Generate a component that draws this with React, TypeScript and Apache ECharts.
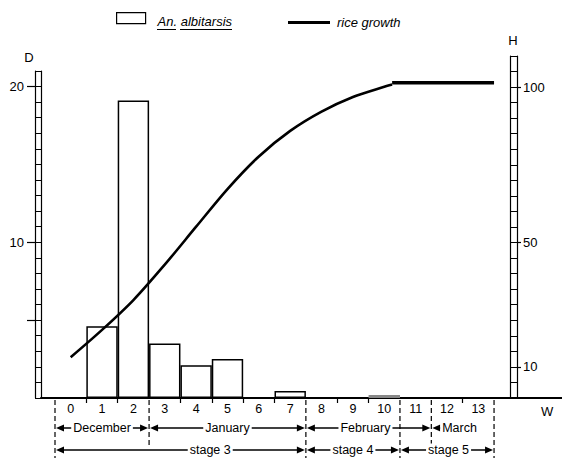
import React, { useEffect, useRef } from 'react';
import * as echarts from 'echarts';

const FONT = '"Liberation Sans", Arial, Helvetica, sans-serif';

// ---- data ----
const weeks = [0, 1, 2, 3, 4, 5, 6, 7, 8, 9, 10, 11, 12, 13];
const albitarsisDensity = [0, 4.6, 19.1, 3.5, 2.1, 2.5, 0, 0.45, 0, 0, 0.2, 0, 0, 0];
const riceWeeks = [0, 1, 2, 3, 4, 5, 6, 7, 8, 9, 10, 10.25];
const riceGrowth = [13.1, 21.9, 31.5, 42.9, 55.1, 67.2, 77.7, 85.9, 92.1, 96.8, 100.1, 100.8];
const plateauWeeks = [10.25, 13.5];
const plateauGrowth = [101.4, 101.4];
const weekBoundaryTicks = [0.5, 1.5, 3.5, 4.5, 5.5, 6.5, 8.5, 9.5, 12.5];
const months = ['December', 'January', 'February', 'March'];
const monthStart = [-0.5, 2.5, 7.5, 11.5];
const monthEnd = [2.5, 7.5, 11.5, 13.5];
const monthLabelAt = [1, 5, 9.4, 12.4];
const monthClosedRight = [true, true, true, false];
const stages = ['stage 3', 'stage 4', 'stage 5'];
const stageStart = [-0.5, 7.5, 10.5];
const stageEnd = [7.5, 10.5, 13.5];
const stageLabelAt = [4.45, 9, 12.05];
const stageBoundaries = [-0.5, 7.5, 10.5, 13.5];
const monthOnlyBoundaries = [2.5, 11.5];
const dTickValues = [5, 10, 20];
const dLabelValues = [10, 20];
const hLabelValues = [10, 50, 100];

const X_MIN = -0.9464;
const X_MAX = 15.667;

function arrowRenderer(
  starts: number[], ends: number[], labelAt: number[], labels: string[],
  drop: number, closedRight: boolean[] | null
) {
  return (params: any, api: any) => {
    const i = params.dataIndex;
    const p1 = api.coord([starts[i], 0]);
    const x2 = api.coord([ends[i], 0])[0];
    const xl = api.coord([labelAt[i], 0])[0];
    const x1 = p1[0];
    const y = p1[1] + drop;
    const right = closedRight ? closedRight[i] : true;
    const children: any[] = [];
    if (right) {
      children.push({ type: 'line', shape: { x1: x1 + 6, y1: y, x2: x2 - 6, y2: y }, style: { stroke: '#000', lineWidth: 1.4 } });
      children.push({ type: 'polygon', shape: { points: [[x2 - 1, y], [x2 - 9, y - 3.5], [x2 - 9, y + 3.5]] }, style: { fill: '#000' } });
    } else {
      children.push({ type: 'line', shape: { x1: x1 + 6, y1: y, x2: x1 + 10, y2: y }, style: { stroke: '#000', lineWidth: 1.4 } });
    }
    children.push({ type: 'polygon', shape: { points: [[x1 + 1, y], [x1 + 9, y - 3.5], [x1 + 9, y + 3.5]] }, style: { fill: '#000' } });
    children.push({
      type: 'text',
      style: {
        text: labels[i], x: xl, y, align: 'center', verticalAlign: 'middle',
        fontSize: 12.5, fontFamily: FONT, fill: '#000', backgroundColor: '#fff', padding: [0, 2],
      },
    });
    return { type: 'group', children };
  };
}

export default function App() {
  const ref = useRef<HTMLDivElement>(null);
  useEffect(() => {
    if (!ref.current) return;
    const chart = echarts.init(ref.current, null, { renderer: 'svg' });

    const boundaries = [
      ...stageBoundaries.map((b) => [b, 0, 1]),
      ...monthOnlyBoundaries.map((b) => [b, 0, 0]),
    ];

    const option: any = {
      animation: false,
      backgroundColor: '#fff',
      textStyle: { fontFamily: FONT, color: '#000' },
      grid: [
        { left: 41, right: 0, top: 71, bottom: 60 },
        { left: 41, right: 0, top: 56, bottom: 60 },
      ],
      legend: [
        {
          data: ['An. albitarsis'], left: 116, top: 12, padding: 0, itemWidth: 29, itemHeight: 11, icon: 'rect',
          selectedMode: false,
          itemStyle: { color: '#fff', borderColor: '#000', borderWidth: 1.2 },
          formatter: '{t|{name}}',
          textStyle: {
            fontStyle: 'italic', fontSize: 13, color: '#000', fontFamily: FONT,
            rich: { t: { fontStyle: 'italic', fontSize: 13, color: '#000', fontFamily: FONT, padding: [6, 0, 0, 7] } },
          },
        },
        {
          data: ['rice growth'], left: 288, top: 16, padding: 0, itemWidth: 42, itemHeight: 3, icon: 'rect',
          selectedMode: false,
          itemStyle: { color: '#000' },
          formatter: '{t|{name}}',
          textStyle: {
            fontStyle: 'italic', fontSize: 13, color: '#000', fontFamily: FONT,
            rich: { t: { fontStyle: 'italic', fontSize: 13, color: '#000', fontFamily: FONT, padding: [0, 0, 0, 2] } },
          },
        },
      ],
      graphic: [
        { type: 'line', shape: { x1: 157, y1: 29.5, x2: 176, y2: 29.5 }, style: { stroke: '#000', lineWidth: 1 } },
        { type: 'line', shape: { x1: 180, y1: 29.5, x2: 232, y2: 29.5 }, style: { stroke: '#000', lineWidth: 1 } },
        {
          type: 'text', left: 541, top: 405,
          style: { text: 'W', fontSize: 13, fontFamily: FONT, fill: '#000' },
        },
      ],
      xAxis: [
        {
          gridIndex: 0, type: 'value', min: X_MIN, max: X_MAX,
          axisLine: { show: true, onZero: false, lineStyle: { color: '#000', width: 2 } },
          axisTick: { show: true, customValues: weekBoundaryTicks, length: 5, lineStyle: { color: '#000', width: 1.2 } },
          axisLabel: { show: true, customValues: weeks, margin: 4, fontSize: 12.5, color: '#000', fontFamily: FONT },
          splitLine: { show: false },
        },
        { gridIndex: 1, type: 'value', min: X_MIN, max: X_MAX, show: false },
      ],
      yAxis: [
        {
          gridIndex: 0, type: 'value', position: 'left', min: 0, max: 21, interval: 1,
          axisLine: { show: true, onZero: false, lineStyle: { color: '#000', width: 1.2 } },
          axisTick: { show: true, length: 6, lineStyle: { color: '#000', width: 1 } },
          axisLabel: { show: false }, splitLine: { show: false },
        },
        {
          gridIndex: 0, type: 'value', position: 'left', offset: 6, min: 0, max: 21,
          name: 'D', nameLocation: 'end', nameGap: 7,
          nameTextStyle: { fontSize: 13, color: '#000', fontFamily: FONT, padding: [0, 12, 0, 0] },
          axisLine: { show: true, onZero: false, lineStyle: { color: '#000', width: 1.2 } },
          axisTick: { show: true, customValues: dTickValues, length: 8, lineStyle: { color: '#000', width: 1.2 } },
          axisLabel: { show: true, customValues: dLabelValues, margin: 11, fontSize: 13, color: '#000', fontFamily: FONT },
          splitLine: { show: false },
        },
        {
          gridIndex: 1, type: 'value', position: 'right', offset: -52, min: 0, max: 110, interval: 5,
          name: 'H', nameLocation: 'end', nameGap: 9,
          nameTextStyle: { fontSize: 13, color: '#000', fontFamily: FONT, padding: [0, 0, 0, 6] },
          axisLine: { show: true, onZero: false, lineStyle: { color: '#000', width: 1.2 } },
          axisTick: { show: true, length: 7, lineStyle: { color: '#000', width: 1 } },
          axisLabel: { show: false }, splitLine: { show: false },
        },
        {
          gridIndex: 1, type: 'value', position: 'right', offset: -45, min: 0, max: 110,
          axisLine: { show: true, onZero: false, lineStyle: { color: '#000', width: 1.2 } },
          axisTick: { show: true, customValues: hLabelValues, length: 4, lineStyle: { color: '#000', width: 1.2 } },
          axisLabel: { show: true, customValues: hLabelValues, margin: 6, fontSize: 13, color: '#000', fontFamily: FONT },
          splitLine: { show: false },
        },
      ],
      series: [
        {
          name: 'An. albitarsis', type: 'bar', xAxisIndex: 0, yAxisIndex: 0, barWidth: 31.4,
          itemStyle: { color: '#fff', borderColor: '#000', borderWidth: 1.5 },
          data: weeks
            .map((w, i) => [w, albitarsisDensity[i]])
            .filter((d) => d[1] > 0)
            .map((d) => (d[1] < 0.3 ? { value: d, itemStyle: { borderColor: '#888' } } : { value: d })),
          z: 2,
        },
        {
          name: 'rice growth', type: 'line', xAxisIndex: 1, yAxisIndex: 2, smooth: 0.3,
          showSymbol: false, symbol: 'none',
          itemStyle: { color: '#000' }, lineStyle: { color: '#000', width: 2.6 },
          data: riceWeeks.map((w, i) => [w, riceGrowth[i]]), z: 3,
        },
        {
          name: 'rice growth', type: 'line', xAxisIndex: 1, yAxisIndex: 2,
          showSymbol: false, symbol: 'none',
          itemStyle: { color: '#000' }, lineStyle: { color: '#000', width: 3.6 },
          data: plateauWeeks.map((w, i) => [w, plateauGrowth[i]]), z: 3,
        },
        {
          type: 'custom', xAxisIndex: 0, yAxisIndex: 0, clip: false, silent: true,
          encode: { x: 0, y: 1 },
          data: boundaries,
          renderItem: (params: any, api: any) => {
            const b = boundaries[params.dataIndex];
            const p = api.coord([b[0], 0]);
            const depth = b[2] === 1 ? 64 : 48;
            return {
              type: 'line',
              shape: { x1: p[0], y1: p[1] + 2, x2: p[0], y2: p[1] + depth },
              style: { stroke: '#000', lineWidth: 1.2, lineDash: [5, 3] },
            };
          },
        },
        {
          type: 'custom', xAxisIndex: 0, yAxisIndex: 0, clip: false, silent: true,
          encode: { x: [0, 1], y: 2 },
          data: months.map((m, i) => [monthStart[i], monthEnd[i], 0]),
          renderItem: arrowRenderer(monthStart, monthEnd, monthLabelAt, months, 30, monthClosedRight),
          z: 4,
        },
        {
          type: 'custom', xAxisIndex: 0, yAxisIndex: 0, clip: false, silent: true,
          encode: { x: [0, 1], y: 2 },
          data: stages.map((s, i) => [stageStart[i], stageEnd[i], 0]),
          renderItem: arrowRenderer(stageStart, stageEnd, stageLabelAt, stages, 52, null),
          z: 4,
        },
      ],
    };
    chart.setOption(option);
    return () => chart.dispose();
  }, []);
  return <div ref={ref} style={{ position: 'absolute', left: 0, top: 0, width: 562, height: 458 }} />;
}
